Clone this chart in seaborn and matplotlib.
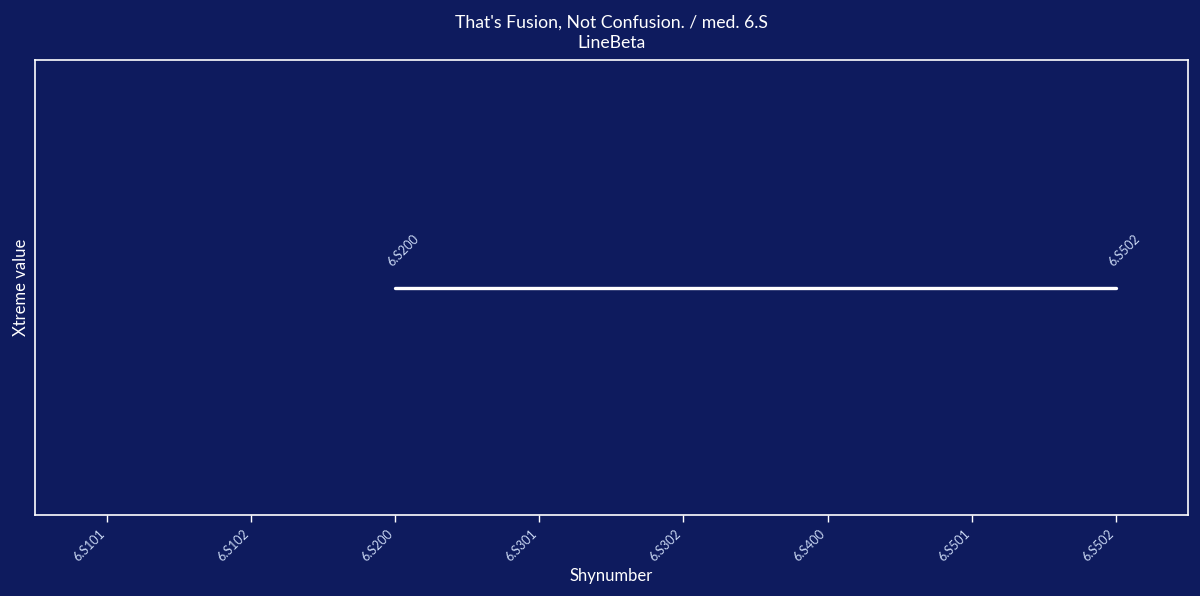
import matplotlib
matplotlib.use("Agg")
import matplotlib.pyplot as plt
import seaborn as sns
import pandas as pd

categories = ["6.S101", "6.S102", "6.S200", "6.S301", "6.S302", "6.S400", "6.S501", "6.S502"]
line_x = ["6.S200", "6.S502"]
line_y = [1.0, 1.0]

BG = "#0e1b5e"
FG = "#ffffff"
TICK = "#c8d6f2"

sns.set_theme(style="white")
plt.rcParams['font.family'] = ['Lato', 'DejaVu Sans']

fig, ax = plt.subplots(figsize=(12, 5.96), dpi=100)
fig.patch.set_facecolor(BG)
ax.set_facecolor(BG)

pos = {c: i for i, c in enumerate(categories)}
df = pd.DataFrame({"x": [pos[c] for c in line_x], "y": line_y})
sns.lineplot(data=df, x="x", y="y", ax=ax, color=FG, linewidth=2.4)

for c, v in zip(line_x, line_y):
    ax.annotate(c, (pos[c], v), xytext=(-1, 14), textcoords="offset points",
                rotation=45, rotation_mode="anchor", ha="left", va="bottom",
                color=TICK, fontsize=9)

ax.set_xlim(-0.5, len(categories) - 0.5)
ax.set_xticks(range(len(categories)))
ax.set_xticklabels(categories, rotation=45, ha="right", color=TICK, fontsize=9)
ax.set_yticks([])
ax.tick_params(axis="x", bottom=True, colors=FG, length=5, width=1, labelcolor=TICK, pad=4)
for s in ax.spines.values():
    s.set_color(FG)
    s.set_linewidth(1.2)
    s.set_visible(True)

ax.set_xlabel("Shynumber", color=FG, fontsize=12, labelpad=3)
ax.set_ylabel("Xtreme value", color=FG, fontsize=12)
ax.set_title("That's Fusion, Not Confusion. / med. 6.S\nLineBeta", color=FG, fontsize=12.7,
             linespacing=1.3, pad=9)

fig.subplots_adjust(left=0.029, right=0.99, top=0.899, bottom=0.136)
fig.savefig("out.png", dpi=100, facecolor=BG)
